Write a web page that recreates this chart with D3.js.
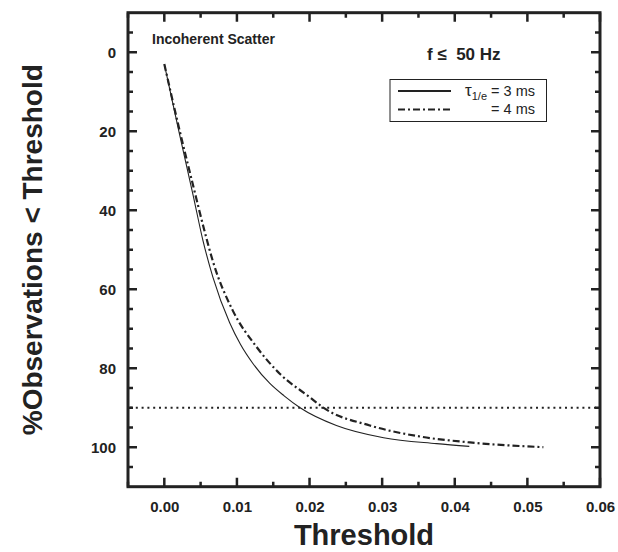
<!DOCTYPE html>
<html>
<head>
<meta charset="utf-8">
<script src="https://cdn.jsdelivr.net/npm/d3@7"></script>
<style>
  body { margin: 0; background: #fff; }
  svg { display: block; font-family: "Liberation Sans", Arial, sans-serif; }
</style>
</head>
<body>
<svg></svg>
<script>
// chart values
var tau3X = [0, 0.002, 0.004, 0.0053, 0.0067, 0.009, 0.0105, 0.0122, 0.0145, 0.0165, 0.0187, 0.0237, 0.0302, 0.0375, 0.042];
var tau3Y = [3, 20, 36.5, 47.5, 57, 68.5, 74, 78.8, 83.8, 87, 90, 94.5, 97.6, 99.1, 99.8];
var tau4X = [0, 0.002, 0.004, 0.0055, 0.0067, 0.0094, 0.0127, 0.0159, 0.020, 0.0219, 0.0283, 0.0352, 0.0421, 0.0522];
var tau4Y = [3, 19, 34, 45, 53, 65.3, 74.6, 81.4, 87.3, 90, 94.5, 97.3, 98.8, 100];
var thresholdLevel = 90;
var xTicks = [0, 0.01, 0.02, 0.03, 0.04, 0.05, 0.06];
var yTicks = [0, 20, 40, 60, 80, 100];

var width = 618;
var height = 552;
var ink = "#222";

var svg = d3.select("svg")
  .attr("width", width)
  .attr("height", height);

var x = d3.scaleLinear().domain([-0.005, 0.06]).range([128, 600]);
var y = d3.scaleLinear().domain([-10, 110]).range([12.7, 486.7]);

var x0 = x.range()[0], x1 = x.range()[1];
var y0 = y.range()[0], y1 = y.range()[1];

// minor ticks every 0.005 and every 5 %
var xMinor = d3.range(-0.005, 0.0601, 0.005);
var yMinor = d3.range(-5, 106, 5);

function styleAxis(g) {
  g.select(".domain").remove();
  g.selectAll(".tick line").remove();
  g.selectAll(".tick text")
    .attr("fill", ink)
    .style("font-size", "15px")
    .style("font-weight", "bold");
}

svg.append("g").attr("transform", "translate(0," + y1 + ")")
  .call(d3.axisBottom(x).tickValues(xTicks).tickSize(0).tickPadding(15).tickFormat(d3.format(".2f")))
  .call(styleAxis);
svg.append("g").attr("transform", "translate(" + x0 + ",0)")
  .call(d3.axisLeft(y).tickValues(yTicks).tickSize(0).tickPadding(12).tickFormat(d3.format("d")))
  .call(styleAxis);

// inward tick marks on all four sides, as one path
var tickPath = d3.path();
function xMarks(values, len) {
  values.forEach(function(d) {
    tickPath.moveTo(x(d), y1); tickPath.lineTo(x(d), y1 - len);
    tickPath.moveTo(x(d), y0); tickPath.lineTo(x(d), y0 + len);
  });
}
function yMarks(values, len) {
  values.forEach(function(d) {
    tickPath.moveTo(x0, y(d)); tickPath.lineTo(x0 + len, y(d));
    tickPath.moveTo(x1, y(d)); tickPath.lineTo(x1 - len, y(d));
  });
}
xMarks(xMinor, 5);
xMarks(xTicks, 9);
yMarks(yMinor, 5);
yMarks(yTicks, 9);

svg.append("path")
  .attr("d", tickPath.toString())
  .attr("fill", "none")
  .attr("stroke", ink)
  .attr("stroke-width", 2.5);

// frame
svg.append("rect")
  .attr("x", x0).attr("y", y0)
  .attr("width", x1 - x0).attr("height", y1 - y0)
  .attr("fill", "none")
  .attr("stroke", ink)
  .attr("stroke-width", 3);

// 90 % reference line
svg.append("line")
  .attr("x1", x0 + 2).attr("x2", x1 - 2)
  .attr("y1", y(thresholdLevel)).attr("y2", y(thresholdLevel))
  .attr("stroke", ink)
  .attr("stroke-width", 2)
  .attr("stroke-dasharray", "2,3.8");

var line = d3.line()
  .x(function(d) { return x(d[0]); })
  .y(function(d) { return y(d[1]); })
  .curve(d3.curveMonotoneX);

svg.append("path")
  .datum(d3.zip(tau3X, tau3Y))
  .attr("d", line)
  .attr("fill", "none")
  .attr("stroke", ink)
  .attr("stroke-width", 1.1);

svg.append("path")
  .datum(d3.zip(tau4X, tau4Y))
  .attr("d", line)
  .attr("fill", "none")
  .attr("stroke", ink)
  .attr("stroke-width", 2.2)
  .attr("stroke-dasharray", "7,3,2,3");

// annotations
svg.append("text")
  .attr("x", 152).attr("y", 43.5)
  .attr("fill", ink)
  .style("font-size", "14px").style("font-weight", "bold")
  .text("Incoherent Scatter");

svg.append("text")
  .attr("x", 427).attr("y", 59.5)
  .attr("fill", ink)
  .style("font-size", "17px").style("font-weight", "bold")
  .style("white-space", "pre")
  .text("f \u2264  50 Hz");

// legend
var legend = svg.append("g");
legend.append("rect")
  .attr("x", 390).attr("y", 79.5)
  .attr("width", 156.5).attr("height", 42)
  .attr("fill", "#fff")
  .attr("stroke", ink)
  .attr("stroke-width", 1);
legend.append("line")
  .attr("x1", 398).attr("x2", 451).attr("y1", 91).attr("y2", 91)
  .attr("stroke", ink).attr("stroke-width", 2.2);
legend.append("line")
  .attr("x1", 398).attr("x2", 451).attr("y1", 109.5).attr("y2", 109.5)
  .attr("stroke", ink).attr("stroke-width", 2.2)
  .attr("stroke-dasharray", "7,3,2,3");

var t1 = legend.append("text")
  .attr("x", 535).attr("y", 95.5)
  .attr("text-anchor", "end")
  .attr("fill", ink)
  .style("font-size", "14.5px");
t1.append("tspan").style("font-size", "17px").text("\u03C4");
t1.append("tspan").attr("dy", 4).style("font-size", "11px").text("1/e");
t1.append("tspan").attr("dy", -4).text(" = 3 ms");

legend.append("text")
  .attr("x", 535).attr("y", 114)
  .attr("text-anchor", "end")
  .attr("fill", ink)
  .style("font-size", "14.5px")
  .text("= 4 ms");

// axis titles
svg.append("text")
  .attr("x", (x0 + x1) / 2).attr("y", 545)
  .attr("text-anchor", "middle")
  .attr("fill", ink)
  .style("font-size", "29px").style("font-weight", "bold")
  .text("Threshold");

svg.append("text")
  .attr("transform", "translate(42," + ((y0 + y1) / 2 + 0) + ") rotate(-90)")
  .attr("text-anchor", "middle")
  .attr("fill", ink)
  .style("font-size", "28px").style("font-weight", "bold")
  .text("%Observations < Threshold");
</script>
</body>
</html>
